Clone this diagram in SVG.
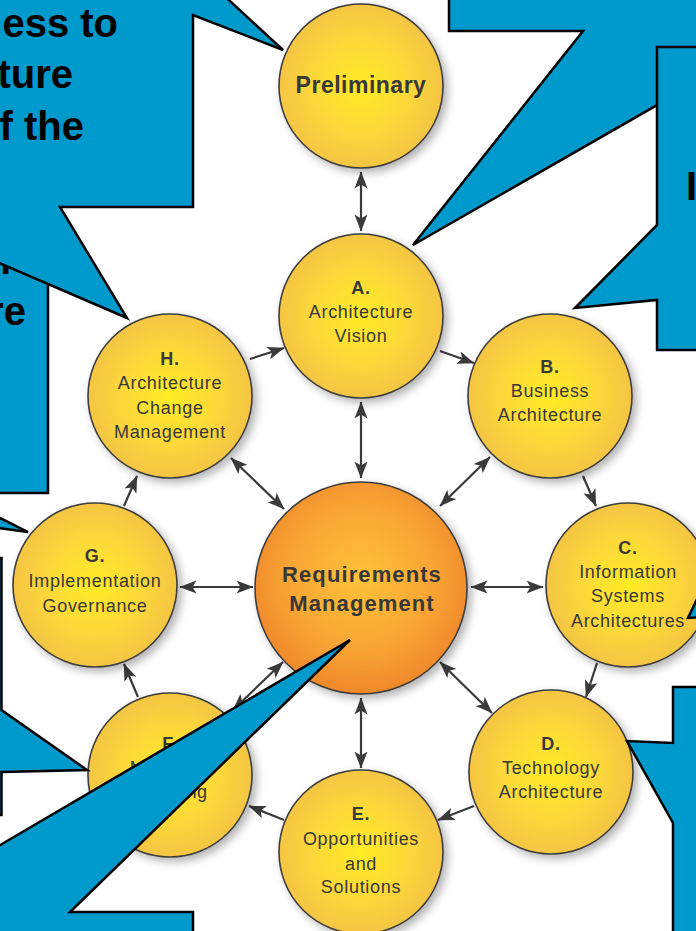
<svg xmlns="http://www.w3.org/2000/svg" width="696" height="931" viewBox="0 0 696 931">
<defs>
<style>
.nd circle{stroke:#3d3d3d;stroke-width:1.6;filter:url(#sh)}
.ph{fill:url(#yg)}
.rm{fill:url(#og)}
.lbl{font-family:"Liberation Sans",Arial,Helvetica,sans-serif;font-size:18px;fill:#383838;text-anchor:middle;letter-spacing:0.7px}
.b{font-weight:bold}
.big{font-family:"Liberation Sans",Arial,Helvetica,sans-serif;font-weight:bold;fill:#383838;text-anchor:middle}
#connectors line{stroke:#3a3a3a;stroke-width:2.2;fill:none}
.one{marker-end:url(#ah)}
.two{marker-start:url(#ah);marker-end:url(#ah)}
.co{fill:#0099cc;stroke:#000;stroke-width:2.5;stroke-linejoin:miter}
.ct{font-family:"Liberation Sans",Arial,Helvetica,sans-serif;font-weight:bold;font-size:40px;fill:#000;text-anchor:end}
</style>
<radialGradient id="yg" cx="50%" cy="50%" r="50%">
<stop offset="0" stop-color="#ffeb26"/>
<stop offset="0.55" stop-color="#fcd939"/>
<stop offset="1" stop-color="#f4c544"/>
</radialGradient>
<radialGradient id="og" cx="50%" cy="45%" r="55%">
<stop offset="0" stop-color="#fdc23a"/>
<stop offset="0.6" stop-color="#f8a634"/>
<stop offset="1" stop-color="#ef882b"/>
</radialGradient>
<filter id="sh" x="-20%" y="-20%" width="150%" height="150%">
<feDropShadow dx="4" dy="4" stdDeviation="4" flood-color="#000" flood-opacity="0.3"/>
</filter>
<marker id="ah" markerWidth="18" markerHeight="14" refX="16.5" refY="7" orient="auto-start-reverse" markerUnits="userSpaceOnUse">
<path d="M0,0.5 L17,7 L0,13.5 L4,7 Z" fill="#3a3a3a"/>
</marker>
</defs>
<rect width="696" height="931" fill="#fff"/>

<g id="connectors">
<line class="two" x1="361" y1="172" x2="361" y2="231"/>
<line class="one" x1="250" y1="359" x2="284" y2="348"/>
<line class="one" x1="440" y1="351" x2="474" y2="363"/>
<line class="one" x1="583" y1="476" x2="596" y2="506"/>
<line class="one" x1="597" y1="663" x2="586" y2="697"/>
<line class="one" x1="474" y1="806" x2="438" y2="820"/>
<line class="one" x1="284" y1="820" x2="249" y2="806"/>
<line class="one" x1="138" y1="697" x2="124" y2="664"/>
<line class="one" x1="124" y1="506" x2="137" y2="476"/>
<line class="two" x1="361" y1="402" x2="361" y2="478"/>
<line class="two" x1="490" y1="457" x2="440" y2="506"/>
<line class="two" x1="543" y1="587" x2="471" y2="587"/>
<line class="two" x1="492" y1="713" x2="440" y2="662"/>
<line class="two" x1="361" y1="768" x2="361" y2="698"/>
<line class="two" x1="233" y1="710" x2="283" y2="662"/>
<line class="two" x1="180" y1="587" x2="253" y2="587"/>
<line class="two" x1="231" y1="458" x2="284" y2="509"/>
</g>

<g id="preliminary" class="nd">
<circle class="ph" cx="361" cy="86" r="82"/>
<text class="big" x="361" y="93" font-size="23" letter-spacing="0.5">Preliminary</text>
</g>
<g id="phaseA" class="nd">
<circle class="ph" cx="361" cy="316" r="82"/>
<text class="lbl b" x="361" y="294">A.</text>
<text class="lbl" x="361" y="318">Architecture</text>
<text class="lbl" x="361" y="342">Vision</text>
</g>
<g id="phaseB" class="nd">
<circle class="ph" cx="550" cy="396" r="82"/>
<text class="lbl b" x="550" y="373">B.</text>
<text class="lbl" x="550" y="397">Business</text>
<text class="lbl" x="550" y="421">Architecture</text>
</g>
<g id="phaseC" class="nd">
<circle class="ph" cx="628" cy="585" r="82"/>
<text class="lbl b" x="628" y="554">C.</text>
<text class="lbl" x="628" y="578">Information</text>
<text class="lbl" x="628" y="602">Systems</text>
<text class="lbl" x="628" y="627">Architectures</text>
</g>
<g id="phaseD" class="nd">
<circle class="ph" cx="551" cy="772" r="82"/>
<text class="lbl b" x="551" y="750">D.</text>
<text class="lbl" x="551" y="774">Technology</text>
<text class="lbl" x="551" y="798">Architecture</text>
</g>
<g id="phaseE" class="nd">
<circle class="ph" cx="361" cy="852" r="82"/>
<text class="lbl b" x="361" y="820">E.</text>
<text class="lbl" x="361" y="845">Opportunities</text>
<text class="lbl" x="361" y="870">and</text>
<text class="lbl" x="361" y="893">Solutions</text>
</g>
<g id="phaseF" class="nd">
<circle class="ph" cx="170" cy="775" r="82"/>
<text class="lbl b" x="170" y="750">F.</text>
<text class="lbl" x="170" y="774">Migration</text>
<text class="lbl" x="170" y="798">Planning</text>
</g>
<g id="phaseG" class="nd">
<circle class="ph" cx="95" cy="585" r="82"/>
<text class="lbl b" x="95" y="562">G.</text>
<text class="lbl" x="95" y="587">Implementation</text>
<text class="lbl" x="95" y="612">Governance</text>
</g>
<g id="phaseH" class="nd">
<circle class="ph" cx="170" cy="396" r="82"/>
<text class="lbl b" x="170" y="365">H.</text>
<text class="lbl" x="170" y="389">Architecture</text>
<text class="lbl" x="170" y="414">Change</text>
<text class="lbl" x="170" y="438">Management</text>
</g>
<g id="requirements" class="nd">
<circle class="rm" cx="361" cy="588" r="106"/>
<text class="big" x="362" y="582" font-size="22" letter-spacing="1.1">Requirements</text>
<text class="big" x="362" y="611" font-size="22" letter-spacing="1.1">Management</text>
</g>

<g id="callout-left-box">
<polygon class="co" points="-10,150 48,150 48,493 -10,493"/>
<text class="ct" x="11" y="274">n</text>
<text class="ct" x="26" y="325">re</text>
</g>
<g id="callout-top-left">
<polygon class="co" points="-10,-10 218,-10 283,50 193,15 193,207 60,207 127,318 -10,259"/>
<text class="ct" x="118" y="37">ess to</text>
<text class="ct" x="73" y="88">ture</text>
<text class="ct" x="84" y="140">f the</text>
</g>
<g id="callout-g">
<polygon class="co" points="-10,513 28,532 -10,527"/>
</g>
<g id="callout-f">
<polygon class="co" points="-10,558 1.5,558 1.5,710 87,770 1.5,772 1.5,815 -10,815"/>
</g>
<g id="callout-rm">
<polygon class="co" points="-10,851 350,640 70,912 193,912 193,941 -10,941"/>
</g>
<g id="callout-top-right">
<polygon class="co" points="449,-10 449,31 583,31 413,245 706,77 706,-10"/>
</g>
<g id="callout-right">
<polygon class="co" points="657,47 706,47 706,350 657,350 657,300 575,308 657,225"/>
<text class="ct" x="697" y="200">I</text>
</g>
<g id="callout-c">
<polygon class="co" points="688,618 706,580 706,617"/>
</g>
<g id="callout-d">
<polygon class="co" points="673,687 706,687 706,941 673,941 673,823 627,741 673,743"/>
</g>
</svg>
